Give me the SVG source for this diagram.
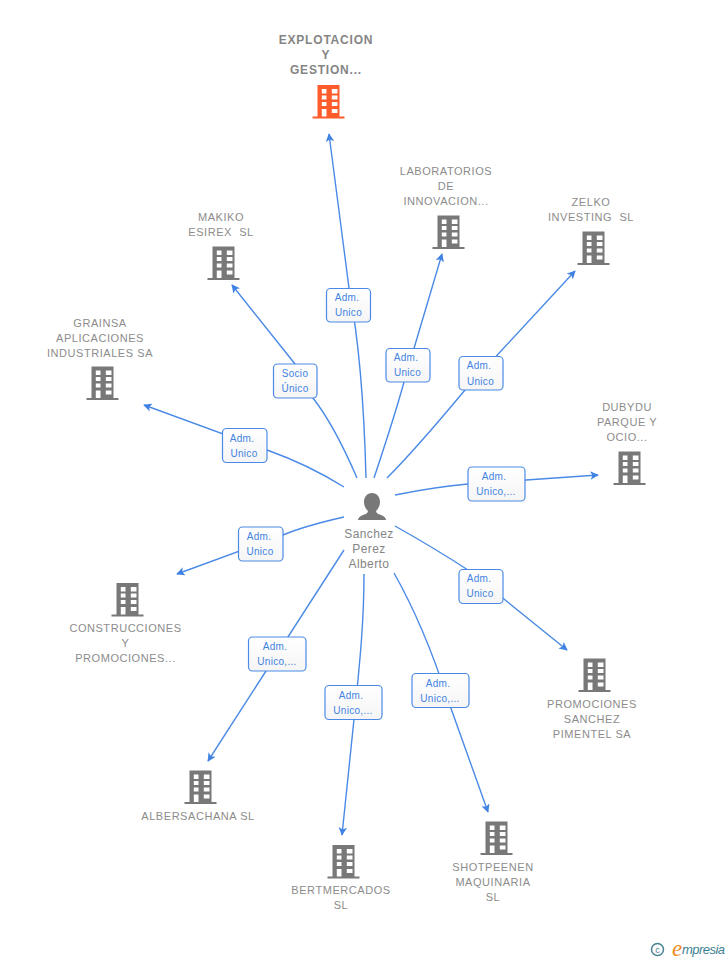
<svg xmlns="http://www.w3.org/2000/svg" width="728" height="960" viewBox="0 0 728 960">
<style>
text{font-family:"Liberation Sans",Arial,sans-serif;text-anchor:middle}
.n{font-size:11px;fill:#8c8c8c;letter-spacing:.55px;white-space:pre}
.t{font-size:12px;font-weight:bold;fill:#858585;letter-spacing:.8px}
.p{font-size:12px;fill:#858585;letter-spacing:.4px}
.l{font-size:10px;fill:#4383e2;letter-spacing:.3px}
.c{fill:none;stroke:#4a8ae6;stroke-width:1.4}
.b{fill:url(#g);stroke:#4a8ae6;stroke-width:1.2}
.i{fill:#787878}
</style>
<defs>
<linearGradient id="g" x1="0" y1="0" x2="0" y2="1"><stop offset="0" stop-color="#fff"/><stop offset="1" stop-color="#f5f5f5"/></linearGradient>
<marker id="a" markerUnits="userSpaceOnUse" viewBox="0 0 10 10" refX="9" refY="5" markerWidth="8.500" markerHeight="8.500" orient="auto"><path d="M0 0L10 5L0 10L2.500 5Z" fill="#3f82e4"/></marker>
<path id="bld" fill-rule="evenodd" d="M5 0H27V31.500H32V33.500H0V31.500H5ZM9.300 4V8.500H14V4ZM19.300 4V8.500H25V4ZM9.300 10.500V14.500H14V10.500ZM19.300 10.500V14.500H25V10.500ZM9.300 17V21H14V17ZM19.300 17V21H25V17ZM9.300 24V31.500H14V24ZM19.300 24V28H25V24Z"/>
</defs>
<g id="connectors">
<path class="c" marker-end="url(#a)" d="M366 478C364 400 359 340 349 288L329 134"/>
<path class="c" marker-end="url(#a)" d="M357 478C345 450 330 420 313 398L295 364L232 285"/>
<path class="c" marker-end="url(#a)" d="M374 478C385 445 395 415 404 382L442 254"/>
<path class="c" marker-end="url(#a)" d="M387 478C415 450 440 420 465 390L575 271"/>
<path class="c" marker-end="url(#a)" d="M344 487C320 472 295 460 267 450L144 405"/>
<path class="c" marker-end="url(#a)" d="M395 495C420 490 445 486 468 484L598 475"/>
<path class="c" marker-end="url(#a)" d="M344 517C322 522 302 527 283 535L177 574"/>
<path class="c" marker-end="url(#a)" d="M395 526C420 540 445 555 468 570L567 650"/>
<path class="c" marker-end="url(#a)" d="M344 550L208 761"/>
<path class="c" marker-end="url(#a)" d="M364 574C364 620 360 660 356 700L342 835"/>
<path class="c" marker-end="url(#a)" d="M394 573C415 610 435 660 448 700L488 812"/>
</g>
<g id="edge-labels">
<g><rect class="b" x="326.500" y="288.500" width="44" height="33.500" rx="4"/><text class="l" x="347" y="301">Adm.</text><text class="l" x="348.500" y="316">Unico</text></g>
<g><rect class="b" x="273.500" y="364" width="43.500" height="34" rx="4"/><text class="l" x="295" y="377">Socio</text><text class="l" x="295" y="392">Único</text></g>
<g><rect class="b" x="386" y="348.500" width="44" height="33.500" rx="4"/><text class="l" x="406" y="361">Adm.</text><text class="l" x="407.500" y="376">Unico</text></g>
<g><rect class="b" x="459" y="356.500" width="44" height="33.500" rx="4"/><text class="l" x="479" y="369">Adm.</text><text class="l" x="480.500" y="385">Unico</text></g>
<g><rect class="b" x="222.500" y="428.500" width="44.500" height="34" rx="4"/><text class="l" x="242" y="442">Adm.</text><text class="l" x="244" y="457">Unico</text></g>
<g><rect class="b" x="468" y="467" width="57" height="34" rx="4"/><text class="l" x="494" y="480">Adm.</text><text class="l" x="496" y="495">Unico,...</text></g>
<g><rect class="b" x="238.500" y="527" width="44.500" height="34" rx="4"/><text class="l" x="259" y="540">Adm.</text><text class="l" x="260" y="555">Unico</text></g>
<g><rect class="b" x="459" y="569.500" width="44" height="34" rx="4"/><text class="l" x="479" y="582">Adm.</text><text class="l" x="480" y="597">Unico</text></g>
<g><rect class="b" x="248.500" y="637" width="57.500" height="34" rx="4"/><text class="l" x="275" y="650">Adm.</text><text class="l" x="277" y="665">Unico,...</text></g>
<g><rect class="b" x="325" y="685.500" width="57" height="34" rx="4"/><text class="l" x="351" y="699">Adm.</text><text class="l" x="353" y="714">Unico,...</text></g>
<g><rect class="b" x="412" y="673.500" width="57" height="34" rx="4"/><text class="l" x="438" y="687">Adm.</text><text class="l" x="440" y="702">Unico,...</text></g>
</g>
<g id="explotacion"><text class="t" x="326" y="44">EXPLOTACION</text><text class="t" x="326" y="59">Y</text><text class="t" x="326" y="74">GESTION...</text><use href="#bld" x="312.500" y="85" fill="#ff5b2b"/></g>
<g id="laboratorios"><text class="n" x="446" y="175">LABORATORIOS</text><text class="n" x="446" y="190">DE</text><text class="n" x="446" y="205">INNOVACION...</text><use href="#bld" class="i" x="432.500" y="215.500"/></g>
<g id="zelko"><text class="n" x="591" y="206">ZELKO</text><text class="n" x="591" y="221">INVESTING  SL</text><use href="#bld" class="i" x="577.500" y="231.500"/></g>
<g id="makiko"><text class="n" x="221" y="221">MAKIKO</text><text class="n" x="221" y="236">ESIREX  SL</text><use href="#bld" class="i" x="207.500" y="246.500"/></g>
<g id="grainsa"><text class="n" x="100" y="327">GRAINSA</text><text class="n" x="100" y="342">APLICACIONES</text><text class="n" x="100" y="357">INDUSTRIALES SA</text><use href="#bld" class="i" x="86.500" y="366.500"/></g>
<g id="dubydu"><text class="n" x="627" y="411">DUBYDU</text><text class="n" x="627" y="426">PARQUE Y</text><text class="n" x="627" y="441">OCIO...</text><use href="#bld" class="i" x="613.500" y="451.500"/></g>
<g id="construcciones"><use href="#bld" class="i" x="111.500" y="583"/><text class="n" x="125.500" y="632">CONSTRUCCIONES</text><text class="n" x="125.500" y="647">Y</text><text class="n" x="125.500" y="662">PROMOCIONES...</text></g>
<g id="promociones"><use href="#bld" class="i" x="578.500" y="658.500"/><text class="n" x="592" y="708">PROMOCIONES</text><text class="n" x="592" y="723">SANCHEZ</text><text class="n" x="592" y="738">PIMENTEL SA</text></g>
<g id="albersachana"><use href="#bld" class="i" x="184.500" y="770.500"/><text class="n" x="198" y="820">ALBERSACHANA SL</text></g>
<g id="bertmercados"><use href="#bld" class="i" x="327.500" y="845"/><text class="n" x="341" y="894">BERTMERCADOS</text><text class="n" x="341" y="909">SL</text></g>
<g id="shotpeenen"><use href="#bld" class="i" x="480.500" y="821.500"/><text class="n" x="493" y="871">SHOTPEENEN</text><text class="n" x="493" y="886">MAQUINARIA</text><text class="n" x="493" y="901">SL</text></g>
<g id="person"><path class="i" d="M372 493C377 493 380 497 380 502C380 506 378 509 376 511C376 513 378 514 381 515C384 516 386 518 386 520H358C358 518 360 516 363 515C366 514 368 513 368 511C366 509 364 506 364 502C364 497 367 493 372 493Z"/><text class="p" x="369" y="538">Sanchez</text><text class="p" x="369" y="553">Perez</text><text class="p" x="369" y="568">Alberto</text></g>
<g id="logo"><circle cx="657.500" cy="949.500" r="6" fill="none" stroke="#4a8294" stroke-width="1.500"/><text x="657.500" y="952.500" font-size="9" style="fill:#4a8294">c</text><text x="677" y="956" font-size="23" font-style="italic" style="fill:#f08a1d;font-family:'Liberation Serif',serif">e</text><text x="682" y="954" font-size="13" font-style="italic" style="fill:#3d7f92;text-anchor:start" textLength="43">mpresia</text></g>
</svg>
